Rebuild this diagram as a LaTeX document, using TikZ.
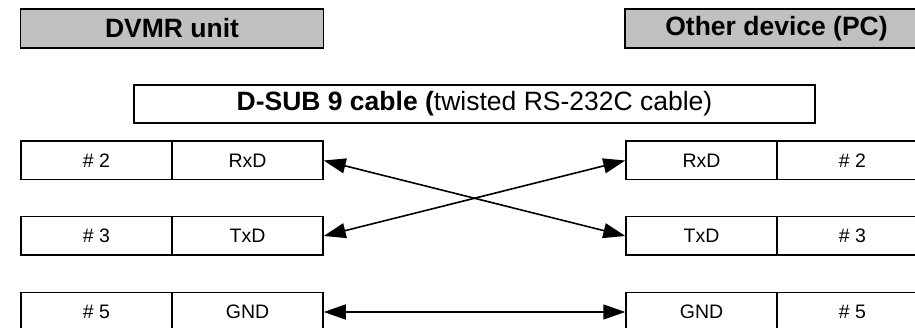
\documentclass[tikz,border=0pt]{standalone}
\usepackage{fontspec}
\setmainfont{Liberation Sans}
\usetikzlibrary{arrows.meta}
\definecolor{hdrgray}{HTML}{C0C0C0}
\tikzset{
  cell/.style={draw=black, line width=1.5pt, minimum width=151pt, minimum height=38.5pt, inner sep=0pt, font=\fontsize{19.5}{19.5}\selectfont, anchor=center},
  header/.style={draw=black, line width=1.5pt, fill=hdrgray, minimum width=303pt, minimum height=39pt, inner sep=0pt, font=\fontsize{26.5}{26.5}\selectfont\bfseries},
  cablebox/.style={draw=black, line width=1.5pt, fill=white, minimum width=681pt, minimum height=38pt, inner sep=0pt, font=\fontsize{26.5}{26.5}\selectfont},
  link/.style={line width=1.6pt, {Triangle[length=22pt,width=15pt]}-{Triangle[length=22pt,width=15pt]}}
}
\begin{document}
\begin{tikzpicture}[x=1pt,y=-1pt]
\useasboundingbox (0,0) rectangle (915,328);
\clip (0,0) rectangle (915,328);
% headers
\node[header] (hL) at (172,28.5) {DVMR unit};
\node[header] (hR) at (776.5,28.5) {Other device (PC)};
% cable
\node[cablebox] (cable) at (474.5,104) {\textbf{D-SUB 9 cable (}twisted RS-232C cable)};
% left pins
\node[cell] (l2n) at (96.5,160.5) {\# 2};
\node[cell] (l2s) at (247.5,160.5) {RxD};
\node[cell] (l3n) at (96.5,236) {\# 3};
\node[cell] (l3s) at (247.5,236) {TxD};
\node[cell] (l5n) at (96.5,312) {\# 5};
\node[cell] (l5s) at (247.5,312) {GND};
% right pins
\node[cell] (r2s) at (701.5,160.5) {RxD};
\node[cell] (r2n) at (852.5,160.5) {\# 2};
\node[cell] (r3s) at (701.5,236) {TxD};
\node[cell] (r3n) at (852.5,236) {\# 3};
\node[cell] (r5s) at (701.5,312) {GND};
\node[cell] (r5n) at (852.5,312) {\# 5};
% links
\draw[link] (l2s.east) -- (r3s.west);
\draw[link] (l3s.east) -- (r2s.west);
\draw[link] (l5s.east) -- (r5s.west);
\end{tikzpicture}
\end{document}
